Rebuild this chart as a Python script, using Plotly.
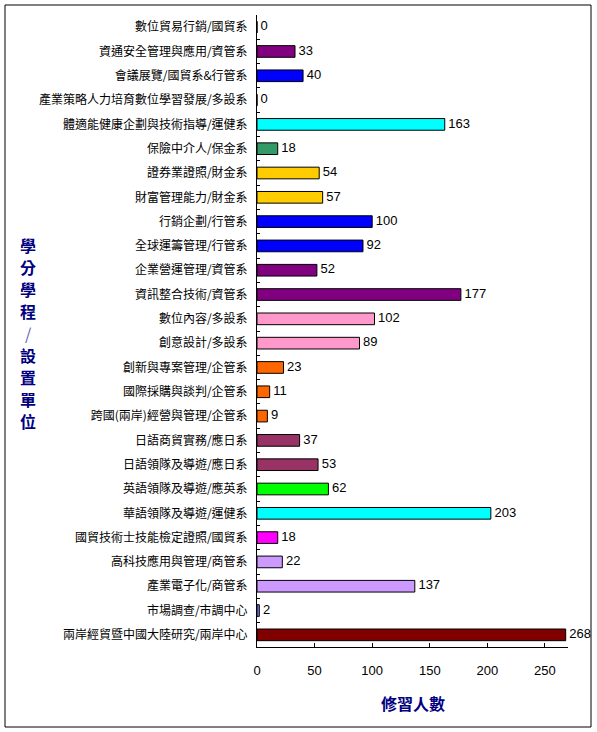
import plotly.graph_objects as go

# categories top -> bottom
programs = [
    "數位貿易行銷/國貿系",
    "資通安全管理與應用/資管系",
    "會議展覽/國貿系&行管系",
    "產業策略人力培育數位學習發展/多設系",
    "體適能健康企劃與技術指導/運健系",
    "保險中介人/保金系",
    "證券業證照/財金系",
    "財富管理能力/財金系",
    "行銷企劃/行管系",
    "全球運籌管理/行管系",
    "企業營運管理/資管系",
    "資訊整合技術/資管系",
    "數位內容/多設系",
    "創意設計/多設系",
    "創新與專案管理/企管系",
    "國際採購與談判/企管系",
    "跨國(兩岸)經營與管理/企管系",
    "日語商貿實務/應日系",
    "日語領隊及導遊/應日系",
    "英語領隊及導遊/應英系",
    "華語領隊及導遊/運健系",
    "國貿技術士技能檢定證照/國貿系",
    "高科技應用與管理/商管系",
    "產業電子化/商管系",
    "市場調查/市調中心",
    "兩岸經貿暨中國大陸研究/兩岸中心",
]
students = [0, 33, 40, 0, 163, 18, 54, 57, 100, 92, 52, 177, 102, 89,
            23, 11, 9, 37, 53, 62, 203, 18, 22, 137, 2, 268]
bar_colors = ["#800080", "#800080", "#0000FF", "#800080", "#00FFFF", "#339966",
              "#FFCC00", "#FFCC00", "#0000FF", "#0000FF", "#800080", "#800080",
              "#FF99CC", "#FF99CC", "#FF6600", "#FF6600", "#FF6600", "#993366",
              "#993366", "#00FF00", "#00FFFF", "#FF00FF", "#CC99FF", "#CC99FF",
              "#8080FF", "#800000"]
x_ticks = [0, 50, 100, 150, 200, 250]
y_title = list("學分學程/設置單位")

W, H = 597, 732
L, R, T, B = 257, 29, 15, 85
pw, ph = W - L - R, H - T - B


def px_x(px):
    return (px - L) / pw


def px_y(py):
    return (H - B - py) / ph


fig = go.Figure()
fig.add_trace(go.Bar(
    x=students, y=programs, orientation="h",
    marker=dict(color=bar_colors, line=dict(color="black", width=1)),
    width=0.48, hoverinfo="x+y",
))
fig.add_trace(go.Scatter(
    x=students, y=programs, mode="text",
    text=[" " + str(v) for v in students], textposition="middle right",
    textfont=dict(family="Liberation Sans", size=13, color="black"),
    cliponaxis=False, hoverinfo="skip",
))

# vertical axis title, one character per line
annotations = []
for i, ch in enumerate(y_title):
    annotations.append(dict(
        text=ch, xref="paper", yref="paper", x=px_x(28), y=px_y(245 + 22 * i),
        xanchor="center", yanchor="middle", showarrow=False,
        font=dict(family="Noto Sans CJK TC", size=16,
                  color="#6060B0" if ch == "/" else "#000080",
                  weight="normal" if ch == "/" else "bold"),
    ))
annotations.append(dict(
    text="修習人數", xref="paper", yref="paper",
    x=px_x(413), y=px_y(703), xanchor="center", yanchor="middle",
    showarrow=False,
    font=dict(family="Noto Sans CJK TC", size=16, color="#000080", weight="bold"),
))

fig.update_layout(
    width=W, height=H,
    margin=dict(l=L, r=R, t=T, b=B),
    paper_bgcolor="white", plot_bgcolor="white",
    showlegend=False,
    font=dict(family="Noto Sans CJK TC", size=12, color="black"),
    xaxis=dict(
        range=[0, 270], tickvals=x_ticks, ticks="inside", ticklen=4,
        tickcolor="black", showline=True, linecolor="black", linewidth=1,
        showgrid=False, zeroline=False, ticklabelstandoff=11,
        tickfont=dict(family="Liberation Sans", size=13),
    ),
    yaxis=dict(
        range=[len(programs) - 0.5, -0.5], ticks="inside", ticklen=3,
        tickcolor="black", tickson="boundaries", showline=True,
        linecolor="black", linewidth=1, showgrid=False, ticklabelstandoff=6,
        tickfont=dict(family="Noto Sans CJK TC", size=12),
    ),
    annotations=annotations,
    shapes=[
        dict(type="rect", xref="paper", yref="paper",
             x0=px_x(5), x1=px_x(591), y0=px_y(727), y1=px_y(5),
             line=dict(color="black", width=1), layer="below"),
    ],
)

# drop the default page margin so the figure sits at the window corner
fig.write_html("out.html", config={"displayModeBar": False},
               post_script="document.body.style.margin='0';")
